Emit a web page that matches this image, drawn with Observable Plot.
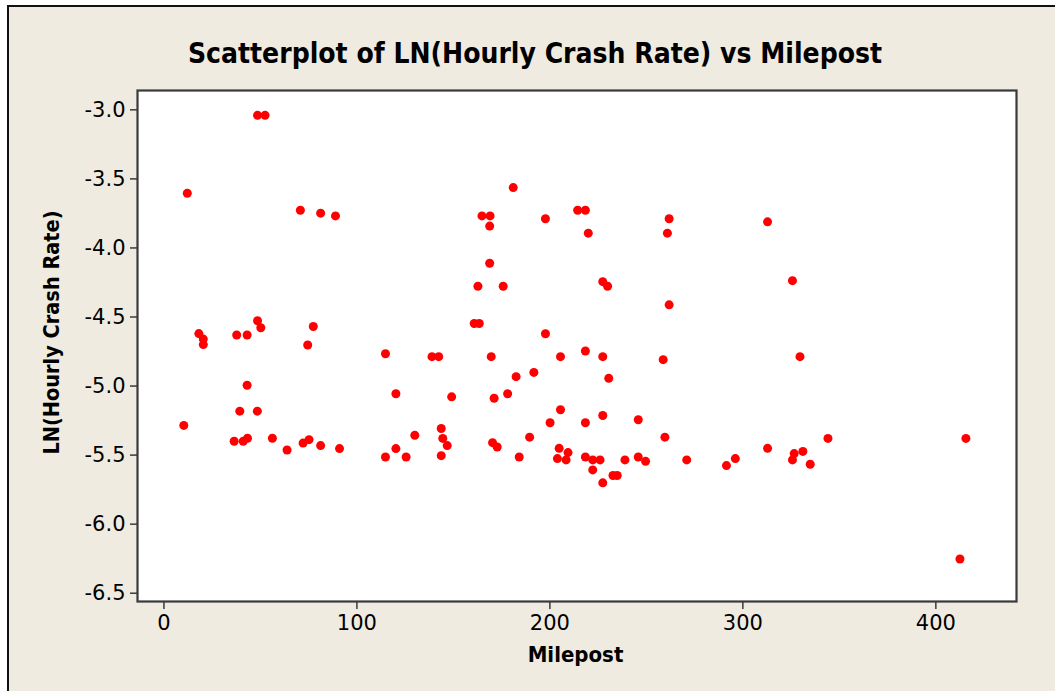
<!DOCTYPE html>
<html>
<head>
<meta charset="utf-8">
<script src="https://cdn.jsdelivr.net/npm/d3@7"></script>
<script src="https://cdn.jsdelivr.net/npm/@observablehq/plot@0.6"></script>
<style>
  html, body { margin: 0; padding: 0; background: #ffffff; width: 1055px; height: 691px; overflow: hidden; }
  #fig { position: absolute; left: 7px; top: 5px; width: 1060px; height: 700px; background: #efebe1;
         border-left: 2px solid #111; border-top: 2px solid #111; box-sizing: border-box; }
  #chart { position: absolute; left: 0; top: 0; }
  #chart svg { background: transparent !important; }
</style>
</head>
<body>
<div id="fig"></div>
<div id="chart"></div>
<script>
const titleText = "Scatterplot of LN(Hourly Crash Rate) vs Milepost";
const xLabel = "Milepost";
const yLabel = "LN(Hourly Crash Rate)";
const xTicks = [0, 100, 200, 300, 400];
const yTicks = [-3.0, -3.5, -4.0, -4.5, -5.0, -5.5, -6.0, -6.5];

const milepost = [
  10.3, 12.1, 18.1, 20.4, 20.4, 36.4, 37.7, 39.3, 41.1, 43.1,
  43.1, 43.3, 48.4, 48.5, 52.4, 48.5, 50.2, 56.2, 63.8, 70.7,
  72.1, 74.5, 75.2, 77.4, 81.2, 81.2, 88.9, 91.0, 114.8, 114.8,
  120.2, 120.2, 125.5, 130.0, 138.9, 142.4, 143.7, 144.5, 146.8, 143.7,
  149.1, 160.8, 163.4, 162.7, 164.8, 169.0, 168.8, 168.8, 169.6, 170.3,
  171.1, 172.7, 175.8, 178.1, 181.0, 182.5, 184.1, 189.5, 191.7, 197.7,
  197.7, 200.1, 203.9, 204.8, 205.5, 205.5, 208.4, 209.4, 214.4, 218.4,
  219.9, 218.4, 218.4, 218.4, 222.2, 222.2, 226.0, 227.4, 229.9, 227.4,
  227.4, 227.4, 230.5, 232.7, 234.9, 238.9, 245.8, 245.8, 249.6, 258.7,
  259.6, 260.9, 261.8, 261.8, 270.9, 291.5, 296.1, 312.8, 312.8, 325.7,
  325.7, 326.6, 329.6, 331.1, 334.9, 344.1, 412.5, 415.6
];
const lnRate = [
  -5.285, -3.604, -4.620, -4.660, -4.700, -5.400, -4.630, -5.182, -5.400, -4.630,
  -4.994, -5.378, -5.182, -3.040, -3.040, -4.527, -4.578, -5.378, -5.463, -3.727,
  -5.413, -4.703, -5.388, -4.569, -3.748, -5.431, -3.768, -5.453, -4.766, -5.514,
  -5.056, -5.453, -5.514, -5.357, -4.787, -4.787, -5.307, -5.379, -5.431, -5.504,
  -5.078, -4.547, -4.547, -4.277, -3.768, -3.768, -3.842, -4.111, -4.787, -5.410,
  -5.088, -5.441, -4.277, -5.056, -3.563, -4.932, -5.514, -5.370, -4.901, -3.789,
  -4.621, -5.266, -5.525, -5.451, -4.787, -5.172, -5.535, -5.482, -3.727, -3.727,
  -3.893, -4.746, -5.266, -5.514, -5.535, -5.607, -5.535, -4.244, -4.277, -4.787,
  -5.213, -5.701, -4.944, -5.648, -5.648, -5.535, -5.244, -5.514, -5.545, -4.809,
  -5.370, -3.893, -3.789, -4.412, -5.535, -5.576, -5.525, -3.811, -5.451, -4.237,
  -5.535, -5.489, -4.787, -5.473, -5.566, -5.379, -6.252, -5.379
];

const data = milepost.map((m, i) => ({ milepost: m, ln: lnRate[i] }));

const labelFont = "'DejaVu Sans Condensed', 'DejaVu Sans', sans-serif";
const tickFont = "'DejaVu Sans', sans-serif";
const axisColor = "#3a3a3a";

const chart = Plot.plot({
  width: 1055,
  height: 691,
  marginLeft: 137,
  marginRight: 39,
  marginTop: 90,
  marginBottom: 90,
  style: { background: "transparent", fontFamily: tickFont, color: "#000" },
  x: { domain: [-13.7, 441.8] },
  y: { domain: [-6.56, -2.86] },
  marks: [
    Plot.frame({ fill: "white", stroke: null }),
    Plot.axisX({
      ticks: xTicks, tickSize: 8, tickPadding: 6, tickFormat: d => String(d),
      fontSize: 21, fontFamily: tickFont, stroke: axisColor, strokeWidth: 1.5, label: null, color: "#000"
    }),
    Plot.axisY({
      ticks: yTicks, tickSize: 7, tickPadding: 5, tickFormat: d => d.toFixed(1),
      fontSize: 21, fontFamily: tickFont, stroke: axisColor, strokeWidth: 1.5, label: null
    }),
    Plot.dot(data, { x: "milepost", y: "ln", r: 4.5, fill: "#ff0000", stroke: null }),
    Plot.frame({ stroke: axisColor, strokeWidth: 2.2 }),
    Plot.text([titleText], {
      frameAnchor: "top", dx: -42, dy: -36.5, lineAnchor: "middle",
      fontSize: 28, fontWeight: "bold", fontFamily: labelFont, fill: "#000"
    }),
    Plot.text([xLabel], {
      frameAnchor: "bottom", dx: -1.5, dy: 53.5, lineAnchor: "middle",
      fontSize: 22, fontWeight: "bold", fontFamily: labelFont, fill: "#000"
    }),
    Plot.text([yLabel], {
      frameAnchor: "left", dx: -85, dy: -13.5, rotate: -90, lineAnchor: "middle", textAnchor: "middle",
      fontSize: 21.5, fontWeight: "bold", fontFamily: labelFont, fill: "#000"
    })
  ]
});

document.getElementById("chart").appendChild(chart);
</script>
</body>
</html>
